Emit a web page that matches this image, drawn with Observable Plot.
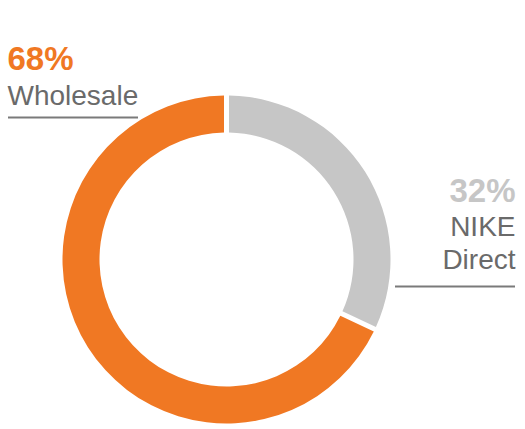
<!DOCTYPE html>
<html>
<head>
<meta charset="utf-8">
<script src="https://cdn.jsdelivr.net/npm/d3@7"></script>
<script src="https://cdn.jsdelivr.net/npm/@observablehq/plot@0.6"></script>
<style>
  html, body { margin: 0; padding: 0; background: #fff; }
  #chart svg { display: block; }
</style>
</head>
<body>
<div id="chart"></div>
<script>
// ---- data ----
const categories = ["NIKE Direct", "Wholesale"];
const shares = [32, 68];
const nameLines = [["NIKE", "Direct"], ["Wholesale"]];
const colors = ["#c6c6c6", "#f07823"];

// ---- layout (pixels) ----
const W = 525, H = 429;
const center = {x: 226.5, y: 259.5};
const rOuter = 164, rInner = 127;
const labelLayout = [
  {x: 515, anchor: "end", pctY: 201, lineYs: [235, 268], rule: {y: 286, x1: 395, x2: 515}},
  {x: 7, anchor: "start", pctY: 69, lineYs: [104], rule: {y: 117, x1: 8, x2: 138}}
];
const font = "Liberation Sans, Arial, Helvetica, sans-serif";

const rows = categories.map((c, i) => ({category: c, share: shares[i]}));
const pctRows = rows.map((r, i) => ({...r, x: labelLayout[i].x, y: labelLayout[i].pctY, anchor: labelLayout[i].anchor}));
const nameRows = rows.flatMap((r, i) => nameLines[i].map((t, j) => ({text: t, x: labelLayout[i].x, y: labelLayout[i].lineYs[j], anchor: labelLayout[i].anchor})));
const ruleRows = labelLayout.map(l => l.rule);

function donut(index, scales, values, dimensions, context) {
  const color = scales.color || d3.scaleOrdinal(categories, colors);
  const pie = d3.pie().sort(null).value(d => d.share)(rows);
  const arc = d3.arc().innerRadius(rInner).outerRadius(rOuter).padRadius(100).padAngle(0.05);
  const g = d3.create("svg:g")
    .attr("transform", `translate(${scales.x(center.x)},${scales.y(center.y)})`);
  g.selectAll("path").data(pie).join("path")
    .attr("d", arc)
    .attr("fill", d => color(d.data.category));
  return g.node();
}

const chart = Plot.plot({
  width: W,
  height: H,
  margin: 0,
  x: {domain: [0, W], range: [0, W], axis: null},
  y: {domain: [0, H], range: [0, H], axis: null},
  color: {domain: categories, range: colors},
  marks: [
    donut,
    Plot.text(pctRows.filter(d => d.anchor === "start"), {
      x: "x", y: "y", text: d => d.share + "%", fill: "category",
      textAnchor: "start", lineAnchor: "bottom",
      fontSize: 33, fontWeight: "bold", fontFamily: font
    }),
    Plot.text(pctRows.filter(d => d.anchor === "end"), {
      x: "x", y: "y", text: d => d.share + "%", fill: "category",
      textAnchor: "end", lineAnchor: "bottom",
      fontSize: 33, fontWeight: "bold", fontFamily: font
    }),
    Plot.text(nameRows.filter(d => d.anchor === "start"), {
      x: "x", y: "y", text: "text", fill: "#6a6a6a",
      textAnchor: "start", lineAnchor: "bottom",
      fontSize: 28, fontFamily: font
    }),
    Plot.text(nameRows.filter(d => d.anchor === "end"), {
      x: "x", y: "y", text: "text", fill: "#6a6a6a",
      textAnchor: "end", lineAnchor: "bottom",
      fontSize: 28, fontFamily: font
    }),
    Plot.ruleY(ruleRows, {y: "y", x1: "x1", x2: "x2", stroke: "#7a7a7a", strokeWidth: 2})
  ]
});
chart.querySelectorAll("text").forEach(t => {
  if (t.getAttribute("font-weight") === "bold") t.setAttribute("letter-spacing", "-0.5");
});
document.getElementById("chart").appendChild(chart);
</script>
</body>
</html>
